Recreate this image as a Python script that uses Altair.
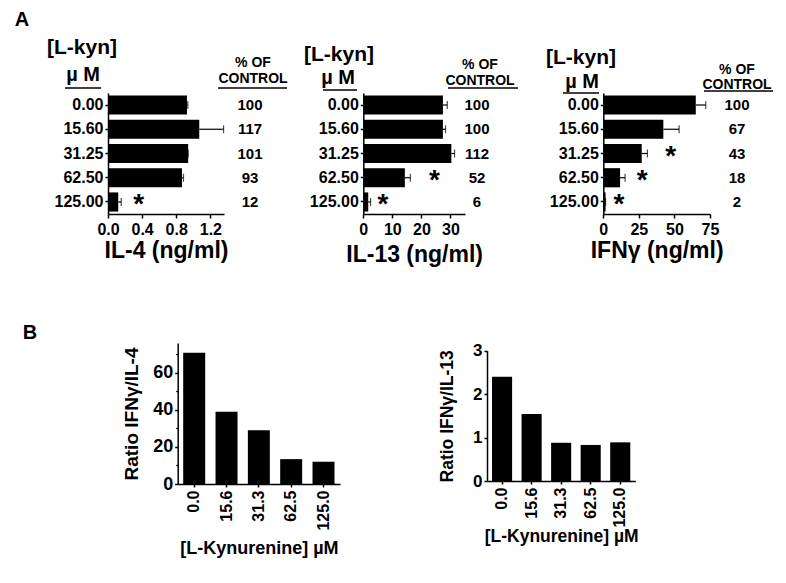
import altair as alt
import pandas as pd

FONT = "Liberation Sans"
W, H = 770, 567

# ---------------- data ----------------
conc_a = ["0.00", "15.60", "31.25", "62.50", "125.00"]

il4_mean = [0.926, 1.07, 0.94, 0.867, 0.12]
il4_sem = [0.01, 0.285, 0.0, 0.018, 0.035]
il4_pct = [100, 117, 101, 93, 12]
il4_star = [None, None, None, None, 0.36]

il13_mean = [27.4, 27.4, 30.3, 14.3, 1.7]
il13_sem = [1.5, 0.9, 1.1, 1.9, 0.8]
il13_pct = [100, 100, 112, 52, 6]
il13_star = [None, None, None, 24.5, 6.8]

ifn_mean = [65.0, 42.2, 27.0, 11.8, 1.6]
ifn_sem = [7.0, 11.1, 4.0, 3.5, 0.0]
ifn_pct = [100, 67, 43, 18, 2]
ifn_star = [None, None, 47.4, 27.4, 11.0]

conc_b = ["0.0", "15.6", "31.3", "62.5", "125.0"]
ratio_ifn_il4 = [70.8, 38.9, 29.0, 13.4, 12.0]
ratio_ifn_il13 = [2.40, 1.54, 0.88, 0.83, 0.89]

# ---------------- helpers ----------------
one = pd.DataFrame({"d": [0]})


def txt(s, x, y, size, align="center", baseline="middle"):
    return alt.Chart(one).mark_text(
        text=s, fontSize=size, fontWeight="bold", font=FONT, align=align,
        baseline=baseline, color="black"
    ).encode(x=alt.value(x), y=alt.value(y))


def hline(x1, x2, y, w=1.5):
    return alt.Chart(one).mark_rule(color="black", strokeWidth=w).encode(
        x=alt.value(x1), x2=alt.value(x2), y=alt.value(y))


A_YR = [85, 206]


def hpanel(mean, sem, pct, star, xdom, xr, xticks, xfmt, xtitle, pct_x, title_y):
    def ys():
        return alt.Scale(domain=conc_a, range=A_YR, paddingInner=0.21,
                         paddingOuter=0.1)

    def xs():
        return alt.Scale(domain=xdom, range=xr, nice=False, zero=False)

    df = pd.DataFrame({
        "conc": conc_a, "mean": mean,
        "hi": [m + s for m, s in zip(mean, sem)],
        "pct": [str(p) for p in pct],
    })
    yax = alt.Axis(orient="left", title=None, offset=-xr[0], tickSize=3,
                   labelPadding=2, labelFontSize=16, domainWidth=1.5, tickWidth=1.5)
    xax = alt.Axis(orient="bottom", title=xtitle, values=xticks, format=xfmt,
                   offset=-(H - A_YR[1]), tickSize=4, labelPadding=3,
                   labelFontSize=16, titleFontSize=23, titleY=title_y,
                   titleBaseline="middle", labelFlush=False, labelOverlap=False,
                   domainWidth=1.5, tickWidth=1.5)
    bars = alt.Chart(df).mark_bar(color="black").encode(
        y=alt.Y("conc:N", scale=ys(), axis=yax),
        x=alt.X("mean:Q", scale=xs(), axis=xax))
    err = alt.Chart(df).mark_rule(color="black", strokeWidth=1.2).encode(
        y=alt.Y("conc:N", scale=ys(), axis=None),
        x=alt.X("mean:Q", scale=xs(), axis=None), x2="hi:Q")
    cap = alt.Chart(df).mark_tick(color="black", size=8, thickness=1.2).encode(
        y=alt.Y("conc:N", scale=ys(), axis=None),
        x=alt.X("hi:Q", scale=xs(), axis=None))
    pcts = alt.Chart(df).mark_text(fontSize=15, fontWeight="bold", font=FONT,
                                   color="black").encode(
        y=alt.Y("conc:N", scale=ys(), axis=None), x=alt.value(pct_x),
        text="pct:N")
    sdf = pd.DataFrame({
        "conc": [c for c, s in zip(conc_a, star) if s is not None],
        "sx": [s for s in star if s is not None],
    })
    stars = alt.Chart(sdf).mark_text(text="*", fontSize=28, fontWeight="bold",
                                     font=FONT, dy=3, color="black").encode(
        y=alt.Y("conc:N", scale=ys(), axis=None),
        x=alt.X("sx:Q", scale=xs(), axis=None))
    return [bars, err, cap, pcts, stars]


def vpanel(vals, ydom, yr, xr, yticks, ytitle, title_x, title_y,
           ylab, ytit, xlab, xtit):
    df = pd.DataFrame({"conc": conc_b, "ratio": vals})
    xs = alt.Scale(domain=conc_b, range=xr, paddingInner=0.32, paddingOuter=0.17)
    ys = alt.Scale(domain=ydom, range=yr, nice=False, zero=True)
    return alt.Chart(df).mark_bar(color="black").encode(
        x=alt.X("conc:N", scale=xs, axis=alt.Axis(
            orient="bottom", title="[L-Kynurenine]  µM", labelAngle=270,
            offset=-(H - yr[0]), tickSize=3, labelPadding=3, labelFontSize=xlab,
            titleFontSize=xtit, titleY=title_y, titleBaseline="middle",
            domainWidth=1.5, tickWidth=1.5)),
        y=alt.Y("ratio:Q", scale=ys, axis=alt.Axis(
            orient="left", title=ytitle, values=yticks, offset=-xr[0],
            tickSize=3, labelPadding=2, labelFontSize=ylab, titleFontSize=ytit,
            titleX=title_x, titleBaseline="middle", domainWidth=1.5,
            tickWidth=1.5, labelFlush=False)),
    )


# ---------------- panels ----------------
a1 = hpanel(il4_mean, il4_sem, il4_pct, il4_star, [0, 1.36], [100, 216],
            [0, 0.4, 0.8, 1.2], ".1f", "IL-4 (ng/ml)", 242, 36)
a2 = hpanel(il13_mean, il13_sem, il13_pct, il13_star, [0, 35], [355.3, 457],
            [0, 10, 20, 30], "d", "IL-13 (ng/ml)", 469, 40)
a3 = hpanel(ifn_mean, ifn_sem, ifn_pct, ifn_star, [0, 75], [595.3, 702],
            [0, 25, 50, 75], "d", "IFNγ (ng/ml)", 729, 36)

B1_YR, B1_XR = [476, 335], [169.7, 332]
B2_YR, B2_XR = [473, 342.7], [479, 627.3]
b1 = vpanel(ratio_ifn_il4, [0, 76], B1_YR, B1_XR, [0, 20, 40, 60],
            "Ratio IFNγ/IL-4", -46, 64, 18, 19, 16, 18)
b2 = vpanel(ratio_ifn_il13, [0, 3], B2_YR, B2_XR, [0, 1, 2, 3],
            "Ratio IFNγ/IL-13", -40, 55, 17, 17.5, 16, 17.5)

minor = alt.Chart(one).mark_point(opacity=0).encode(
    x=alt.value(0),
    y=alt.Y("d:Q", scale=alt.Scale(domain=[0, 76], range=B1_YR, nice=False),
            axis=alt.Axis(orient="left", values=[10, 30, 50, 70], labels=False,
                          domain=False, tickSize=2, tickWidth=1.2, title=None,
                          offset=-B1_XR[0])))

headers = [
    txt("A", 14, 12, 20),
    txt("B", 22, 325, 20),
    # panel 1
    txt("[L-kyn]", 74, 40, 21), txt("µ M", 75, 67, 20), hline(57, 93, 80),
    txt("% OF", 245, 55, 14), txt("CONTROL", 245, 71, 14), hline(210, 279, 80),
    # panel 2
    txt("[L-kyn]", 331, 47, 21), txt("µ M", 330, 70, 20), hline(315, 349, 82),
    txt("% OF", 472, 57, 14), txt("CONTROL", 472, 73, 14), hline(440, 510, 80),
    # panel 3
    txt("[L-kyn]", 573, 50, 21), txt("µ M", 574, 74, 20), hline(555, 591, 85),
    txt("% OF", 729, 62, 14), txt("CONTROL", 729, 77, 14), hline(696, 765, 83),
]

chart = alt.layer(*a1, *a2, *a3, b1, b2, minor, *headers).resolve_scale(
    x="independent", y="independent"
).properties(
    width=W, height=H, autosize="none", padding=0, background="white"
).configure_view(stroke=None).configure_axis(
    labelFont=FONT, titleFont=FONT, labelFontWeight="bold",
    titleFontWeight="bold", labelColor="black", titleColor="black",
    domainColor="black", tickColor="black", grid=False
)

chart.save("out.html", embed_options={"renderer": "svg", "actions": False})
